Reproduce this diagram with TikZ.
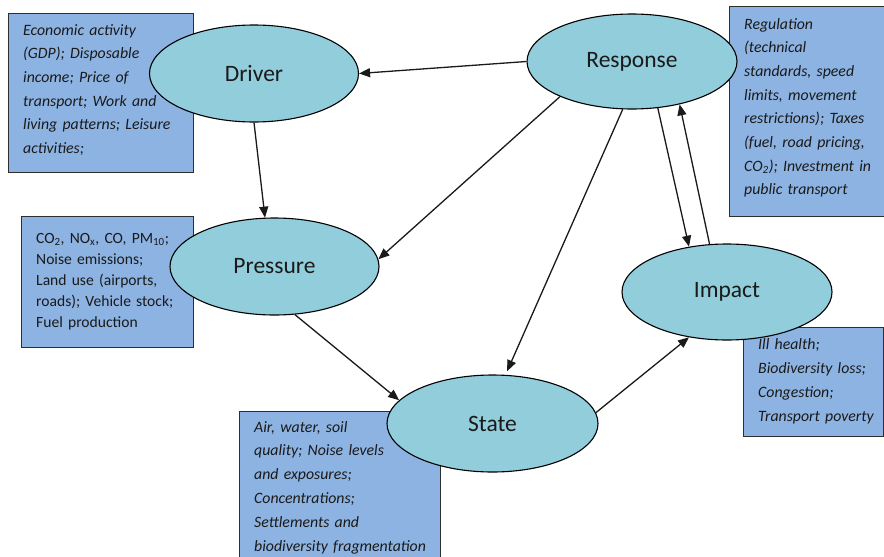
\documentclass[tikz,border=0pt]{standalone}
\usepackage{fontspec}
\setmainfont{Carlito}
\usetikzlibrary{shapes.geometric,arrows.meta}

\definecolor{boxblue}{HTML}{8DB3E2}
\definecolor{ellteal}{HTML}{92CDDC}
\definecolor{boxline}{HTML}{2E2E2E}
\definecolor{ink}{HTML}{1A1A1A}

\tikzset{
  infobox/.style={draw=boxline, line width=1.3pt, fill=boxblue, inner sep=0pt,
    anchor=north west},
  boxtext/.style={inner sep=0pt, anchor=base west, text=ink, align=left,
    text width=#1},
  boxtext/.default=180pt,
  stage/.style={ellipse, draw=black, line width=1.1pt, fill=ellteal, inner sep=0pt,
    minimum width=209pt, minimum height=97pt, text=ink,
    font=\fontsize{23.5}{28}\selectfont},
  flow/.style={line width=1.3pt, draw=ink,
    -{Triangle[length=11pt,width=9pt]}}
}

\begin{document}
\begin{tikzpicture}[x=1pt,y=-1pt]
  \clip (0,0) rectangle (884,557);
  \fill[white] (0,0) rectangle (884,557);

  % descriptive boxes behind the stages
  \node[infobox, minimum width=185pt, minimum height=159pt] (drvbox) at (8,13) {};
  \node[infobox, minimum width=170pt, minimum height=210pt] (resbox) at (729,6) {};
  \node[infobox, minimum width=172pt, minimum height=131pt] (prebox) at (21,216) {};
  \node[infobox, minimum width=201pt, minimum height=160pt] (stabox) at (239,411) {};
  \node[infobox, minimum width=140pt, minimum height=109pt] (impbox) at (743,327) {};

  \node[boxtext, font=\fontsize{15.8}{23.7}\selectfont\itshape] (drvtxt) at (23,35)
    {Economic activity\\(GDP); Disposable\\income; Price of\\transport; Work and\\living patterns; Leisure\\activities;};
  \node[boxtext, font=\fontsize{15.8}{23.7}\selectfont\itshape] (restxt) at (744,29)
    {Regulation\\(technical\\standards, speed\\limits, movement\\restrictions); Taxes\\(fuel, road pricing,\\CO\textsubscript{2}); Investment in\\public transport};
  \node[boxtext, font=\fontsize{15.6}{21}\selectfont] (pretxt) at (36,243)
    {CO\textsubscript{2}, NO\textsubscript{x}, CO, PM\textsubscript{10};\\Noise emissions;\\Land use (airports,\\roads); Vehicle stock;\\Fuel production};
  \node[boxtext=200pt, font=\fontsize{15.8}{23.8}\selectfont\itshape] (statxt) at (254,432)
    {Air, water, soil\\quality; Noise levels\\and exposures;\\Concentrations;\\Settlements and\\biodiversity fragmentation};
  \node[boxtext, font=\fontsize{15.8}{24.3}\selectfont\itshape] (imptxt) at (758,349)
    {Ill health;\\Biodiversity loss;\\Congestion;\\Transport poverty};

  % the five stages
  \node[stage] (drv) at (254,73.5) {Driver};
  \node[stage, minimum width=210pt, minimum height=95pt] (res) at (632,61.5) {Response};
  \node[stage] (pre) at (274.5,266.5) {Pressure};
  \node[stage, minimum width=211pt] (sta) at (492.5,423.5) {State};
  \node[stage, minimum width=210pt, minimum height=96pt] (imp) at (727,292) {Impact};

  % causal links
  \draw[flow] (res.west) -- (drv.east);
  \draw[flow] (drv.south) -- (pre.101);
  \draw[flow] (res.206) -- (pre.4);
  \draw[flow, shorten >=4pt] (res.259) -- (sta.75);
  \draw[flow] (pre.293) -- (sta.166);
  \draw[flow] (sta.6) -- (imp.230);
  \draw[flow] (res.299) -- (imp.130);
  \draw[flow] (imp.110) -- (res.318);
\end{tikzpicture}
\end{document}
